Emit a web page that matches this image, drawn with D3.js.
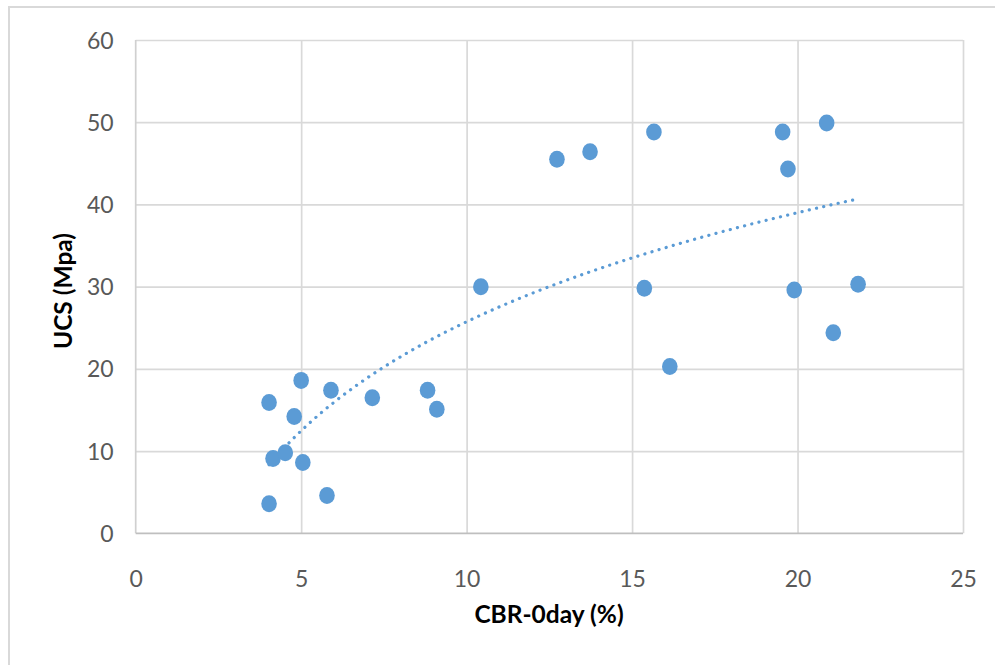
<!DOCTYPE html>
<html>
<head>
<meta charset="utf-8">
<script src="https://cdn.jsdelivr.net/npm/d3@7"></script>
<style>
  html, body { margin: 0; padding: 0; background: #fff; }
  svg { display: block; }
</style>
</head>
<body>
<div id="chart"></div>
<script>
// ---- data ----
const cbr = [4.03, 4.15, 4.03, 4.52, 4.79, 5.0, 5.05, 5.78, 5.9, 7.15, 8.82, 9.1,
             10.43, 12.73, 13.73, 15.66, 15.37, 16.14, 19.55, 19.71, 19.9, 20.88, 21.08, 21.83];
const ucs = [15.9, 9.1, 3.6, 9.8, 14.2, 18.6, 8.6, 4.6, 17.4, 16.5, 17.4, 15.1,
             30.0, 45.5, 46.4, 48.8, 29.8, 20.3, 48.8, 44.3, 29.6, 49.9, 24.4, 30.3];
const xTicks = [0, 5, 10, 15, 20, 25];
const yTicks = [0, 10, 20, 30, 40, 50, 60];
const xTitle = "CBR-0day (%)";
const yTitle = "UCS (Mpa)";

(function () {
const W = 995, H = 665;
const pL = 135.7, pR = 963, pT = 40, pB = 533.3;

const svg = d3.select("#chart").append("svg").attr("width", W).attr("height", H);

// outer frame
svg.append("rect").attr("x", 9).attr("y", 7).attr("width", W + 20).attr("height", H + 20)
  .attr("fill", "#fff").attr("stroke", "#d9d9d9").attr("stroke-width", 2);

const x = d3.scaleLinear().domain([0, 25]).range([pL, pR]);
const y = d3.scaleLinear().domain([0, 60]).range([pB, pT]);

// gridlines
const gx = svg.append("g").attr("transform", `translate(0,${pB})`)
  .call(d3.axisBottom(x).tickValues(xTicks.filter(d => d > 0)).tickSize(-(pB - pT)).tickFormat(""));
gx.select(".domain").remove();
gx.selectAll("line").attr("stroke", "#d9d9d9").attr("stroke-width", 1.7);

const gy = svg.append("g").attr("transform", `translate(${pL},0)`)
  .call(d3.axisLeft(y).tickValues(yTicks.filter(d => d > 0)).tickSize(-(pR - pL)).tickFormat(""));
gy.select(".domain").remove();
gy.selectAll("line").attr("stroke", "#d9d9d9").attr("stroke-width", 1.7);

// axis lines
svg.append("line").attr("x1", pL).attr("x2", pL).attr("y1", pT).attr("y2", pB)
  .attr("stroke", "#d0d0d0").attr("stroke-width", 1.7);
svg.append("line").attr("x1", pL).attr("x2", pR).attr("y1", pB).attr("y2", pB)
  .attr("stroke", "#bfbfbf").attr("stroke-width", 1.7);

// tick labels
const tickFont = "Lato, 'Open Sans', sans-serif";
const xl = svg.append("g").attr("transform", `translate(0,${pB})`)
  .call(d3.axisBottom(x).tickValues(xTicks).tickSize(0).tickPadding(0));
xl.select(".domain").remove();
xl.selectAll("text").attr("dy", null).attr("y", 54).attr("font-family", tickFont)
  .attr("font-size", 23).attr("fill", "#595959");

const yl = svg.append("g").attr("transform", `translate(${pL},0)`)
  .call(d3.axisLeft(y).tickValues(yTicks).tickSize(0).tickPadding(0));
yl.select(".domain").remove();
yl.selectAll("text").attr("x", -22).attr("dy", "0.35em").attr("font-family", tickFont)
  .attr("font-size", 23).attr("fill", "#595959");

// trendline: logarithmic least squares fit over data range
const lx = cbr.map(Math.log);
const mx = d3.mean(lx), my = d3.mean(ucs);
const a = d3.sum(lx.map((v, i) => (v - mx) * (ucs[i] - my))) / d3.sum(lx.map(v => (v - mx) ** 2));
const b = my - a * mx;
const [xmin, xmax] = d3.extent(cbr);
const trendX = d3.range(0, 101).map(i => xmin + (xmax - xmin) * i / 100);
svg.append("path")
  .datum(trendX)
  .attr("d", d3.line().x(d => x(d)).y(d => y(a * Math.log(d) + b)))
  .attr("fill", "none").attr("stroke", "#5b9bd5").attr("stroke-width", 3.2)
  .attr("stroke-linecap", "round").attr("stroke-dasharray", "0.1,7.3");

// points
svg.append("g").selectAll("ellipse").data(cbr).join("ellipse")
  .attr("cx", d => x(d)).attr("cy", (d, i) => y(ucs[i]))
  .attr("rx", 7.8).attr("ry", 8.5).attr("fill", "#5b9bd5");

// axis titles
svg.append("text").attr("x", 549).attr("y", 623).attr("text-anchor", "middle")
  .attr("font-family", tickFont).attr("font-weight", "bold").attr("font-size", 24.5)
  .attr("fill", "#000").text(xTitle);
svg.append("text").attr("transform", "translate(72,291) rotate(-90)").attr("text-anchor", "middle")
  .attr("font-family", tickFont).attr("font-weight", "bold").attr("font-size", 24.5)
  .attr("fill", "#000").text(yTitle);
})();
</script>
</body>
</html>
